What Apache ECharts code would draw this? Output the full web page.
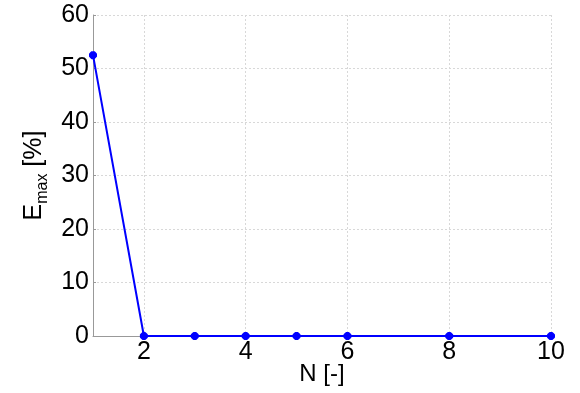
<!DOCTYPE html>
<html><head><meta charset="utf-8">
<script src="https://cdn.jsdelivr.net/npm/echarts@6/dist/echarts.min.js"></script>
<style>html,body{margin:0;padding:0;background:#fff}#c{width:580px;height:393px}</style>
</head><body><div id="c"></div>
<script>
const nValues = [1, 2, 3, 4, 5, 6, 8, 10];
const eMax = [52.5, 0, 0, 0, 0, 0, 0, 0];
const xTicks = [2, 4, 6, 8, 10];

const font = '"Liberation Sans", Arial, sans-serif';
const chart = echarts.init(document.getElementById('c'));
const star = 'path://M0,-10L0,10M-10,0L10,0M-7,-7L7,7M-7,7L7,-7';
chart.setOption({
  animation: false,
  grid: {left: 93, right: 29, top: 15, bottom: 57, outerBoundsMode: 'none', containLabel: false},
  xAxis: {
    type: 'value', min: 1, max: 10,
    name: 'N [-]', nameLocation: 'middle', nameGap: 26, nameMoveOverlap: false,
    nameTextStyle: {fontFamily: font, fontSize: 24, color: '#000'},
    axisLine: {show: true, lineStyle: {color: '#999', width: 1}},
    axisTick: {show: true, inside: true, length: 3, customValues: xTicks, lineStyle: {color: '#999'}},
    axisLabel: {customValues: xTicks, fontFamily: font, fontSize: 25, color: '#000', margin: 4},
    splitLine: {show: true, lineStyle: {color: '#d8d8d8', type: [2, 2], width: 1}}
  },
  yAxis: {
    type: 'value', min: 0, max: 60, interval: 10,
    name: '{a|E}{b|max}{a| [%]}', nameLocation: 'middle', nameGap: 42, nameMoveOverlap: false,
    nameTextStyle: {
      rich: {
        a: {fontFamily: font, fontSize: 25, color: '#000', lineHeight: 34},
        b: {fontFamily: font, fontSize: 16, color: '#000', verticalAlign: 'bottom', lineHeight: 34, padding: [14, 0, 0, 0]}
      }
    },
    axisLine: {show: true, lineStyle: {color: '#999', width: 1}},
    axisTick: {show: true, inside: true, length: 3, lineStyle: {color: '#999'}},
    axisLabel: {fontFamily: font, fontSize: 25, color: '#000', margin: 4},
    splitLine: {show: true, lineStyle: {color: '#d8d8d8', type: [2, 2], width: 1}}
  },
  series: [{
    type: 'line',
    data: nValues.map((n, i) => [n, eMax[i]]),
    lineStyle: {color: '#0000ff', width: 2},
    itemStyle: {color: '#0000ff', borderColor: '#0000ff', borderWidth: 3},
    symbol: star, symbolSize: 8, showSymbol: true,
    z: 5
  }]
});
</script></body></html>
